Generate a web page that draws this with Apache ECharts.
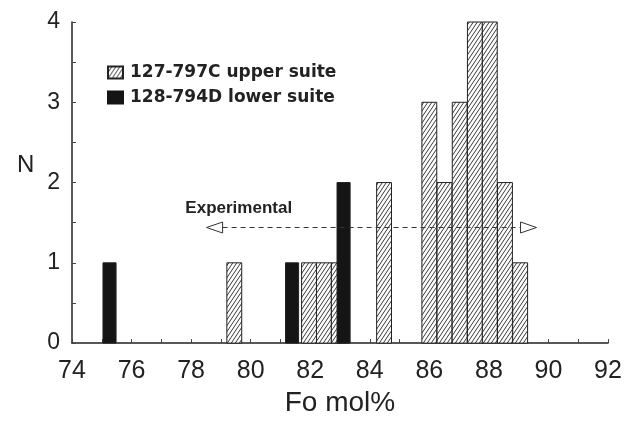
<!DOCTYPE html>
<html>
<head>
<meta charset="utf-8">
<script src="https://cdn.jsdelivr.net/npm/echarts@6/dist/echarts.min.js"></script>
<style>
html,body{margin:0;padding:0;background:#fff;}
#chart{width:625px;height:422px;}
</style>
</head>
<body>
<div id="chart"></div>
<script>
// ---- data ----
const seriesNames = ['127-797C upper suite', '128-794D lower suite'];
const upperCenters = [79.45, 81.96, 82.46, 82.96, 84.48, 86.0, 86.51, 87.02, 87.53, 88.03, 88.54, 89.05];
const upperCounts  = [1, 1, 1, 1, 2, 3, 2, 3, 4, 4, 2, 1];
const upperBinWidth = 0.5;
const lowerCenters = [75.26, 81.39, 83.12];
const lowerCounts  = [1, 1, 2];
const lowerBinWidth = 0.44;
const xTicks = [74, 76, 78, 80, 82, 84, 86, 88, 90, 92];
const yTicks = [0, 1, 2, 3, 4];
const arrowLabel = 'Experimental';
const arrowFrom = 78.52;
const arrowTo = 89.6;
const arrowLevel = 1.44;
const arrowLabelPos = [79.6, 1.68];

// ---- hatch pattern ----
function makeHatch() {
  const w = 4, h = 6;
  const c = document.createElement('canvas');
  c.width = w; c.height = h;
  const ctx = c.getContext('2d');
  ctx.fillStyle = '#ffffff';
  ctx.fillRect(0, 0, w, h);
  ctx.strokeStyle = '#222222';
  ctx.lineWidth = 0.9;
  ctx.beginPath();
  ctx.moveTo(-w, h); ctx.lineTo(0, 0);
  ctx.moveTo(0, h); ctx.lineTo(w, 0);
  ctx.moveTo(w, h); ctx.lineTo(2 * w, 0);
  ctx.stroke();
  return c;
}
const hatch = { image: makeHatch(), repeat: 'repeat' };

function barRenderer(width, fill) {
  return function (params, api) {
    const x = api.value(0), y = api.value(1);
    const p0 = api.coord([x - width / 2, y]);
    const p1 = api.coord([x + width / 2, 0]);
    return {
      type: 'rect',
      shape: { x: p0[0], y: p0[1], width: p1[0] - p0[0], height: p1[1] - p0[1] },
      style: { fill: fill, stroke: '#222', lineWidth: 1 }
    };
  };
}

const chart = echarts.init(document.getElementById('chart'), null, { renderer: 'canvas' });
const axisFont = 'Liberation Sans, Arial, sans-serif';

const option = {
  animation: false,
  backgroundColor: '#ffffff',
  grid: { left: 72, right: 17, top: 22, bottom: 67, containLabel: false },
  legend: {
    orient: 'vertical',
    left: 102, top: 59,
    itemWidth: 15, itemHeight: 12,
    itemGap: 8,
    icon: 'rect',
    textStyle: { fontFamily: 'DejaVu Sans, sans-serif', fontWeight: 'bold', fontSize: 17, color: '#222', padding: [0, 0, 0, 2] },
    data: seriesNames
  },
  xAxis: {
    type: 'value', min: xTicks[0], max: xTicks[xTicks.length - 1], interval: 2,
    name: 'Fo mol%', nameLocation: 'middle', nameGap: 44,
    nameTextStyle: { fontFamily: axisFont, fontSize: 28, color: '#222' },
    axisLine: { lineStyle: { color: '#222', width: 1.5 } },
    axisTick: { show: true, inside: true, length: 4, lineStyle: { color: '#444' } },
    minorTick: { show: true, splitNumber: 2, length: 4, lineStyle: { color: '#444' } },
    splitLine: { show: false },
    axisLabel: { fontFamily: axisFont, fontSize: 25, color: '#222', margin: 16 }
  },
  yAxis: {
    type: 'value', min: yTicks[0], max: yTicks[yTicks.length - 1], interval: 1,
    axisLine: { show: true, lineStyle: { color: '#222', width: 1.5 } },
    axisTick: { show: true, inside: true, length: 4, lineStyle: { color: '#444' } },
    minorTick: { show: true, splitNumber: 2, length: 4, lineStyle: { color: '#444' } },
    splitLine: { show: false },
    axisLabel: { fontFamily: axisFont, fontSize: 23, color: '#222', margin: 12 }
  },
  graphic: [{
    type: 'text', left: 17, top: 153,
    style: { text: 'N', font: '24px Liberation Sans, Arial, sans-serif', fill: '#222' }
  }],
  series: [
    {
      name: seriesNames[0], type: 'custom', z: 2,
      itemStyle: { color: hatch, borderColor: '#222', borderWidth: 1 },
      renderItem: barRenderer(upperBinWidth, hatch),
      encode: { x: 0, y: 1 },
      data: upperCenters.map((c, i) => [c, upperCounts[i]])
    },
    {
      name: seriesNames[1], type: 'custom', z: 3,
      itemStyle: { color: '#151515', borderColor: '#151515', borderWidth: 1 },
      renderItem: barRenderer(lowerBinWidth, '#151515'),
      encode: { x: 0, y: 1 },
      data: lowerCenters.map((c, i) => [c, lowerCounts[i]])
    },
    {
      name: 'arrow', type: 'custom', z: 4, silent: true,
      renderItem: function (params, api) {
        const a = api.coord([api.value(0), api.value(2)]);
        const b = api.coord([api.value(1), api.value(2)]);
        const t = api.coord([arrowLabelPos[0], arrowLabelPos[1]]);
        const len = 16, hw = 5.5;
        return {
          type: 'group',
          children: [
            { type: 'line', shape: { x1: a[0] + len, y1: a[1], x2: b[0] - len, y2: b[1] },
              style: { stroke: '#333', lineWidth: 1, lineDash: [5, 4] } },
            { type: 'polygon', shape: { points: [[a[0], a[1]], [a[0] + len, a[1] - hw], [a[0] + len, a[1] + hw]] },
              style: { fill: '#fff', stroke: '#333', lineWidth: 1 } },
            { type: 'polygon', shape: { points: [[b[0], b[1]], [b[0] - len, b[1] - hw], [b[0] - len, b[1] + hw]] },
              style: { fill: '#fff', stroke: '#333', lineWidth: 1 } },
            { type: 'text', x: t[0], y: t[1],
              style: { text: arrowLabel, font: 'bold 17px Liberation Sans, Arial, sans-serif', fill: '#222',
                       align: 'center', verticalAlign: 'middle' } }
          ]
        };
      },
      encode: { x: [0, 1], y: 2 },
      data: [[arrowFrom, arrowTo, arrowLevel]]
    }
  ]
};
chart.setOption(option);
</script>
</body>
</html>
